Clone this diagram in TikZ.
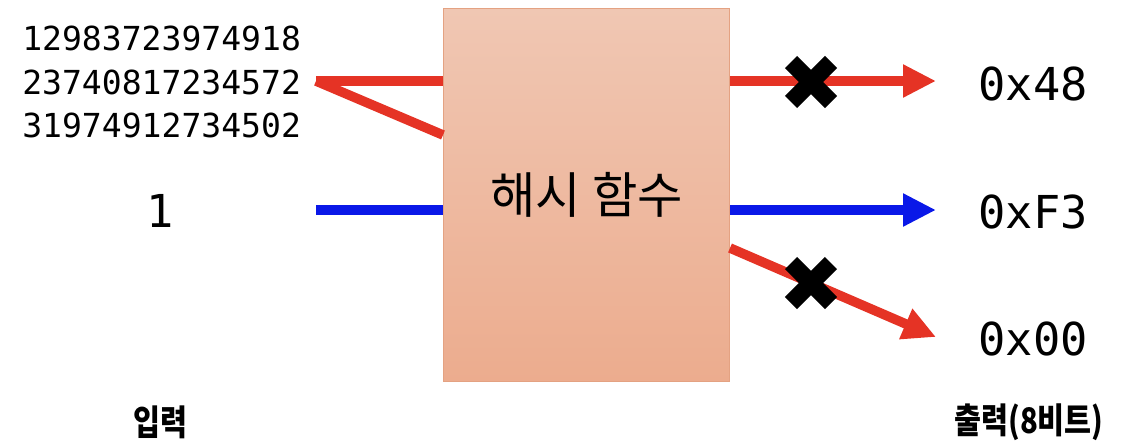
\documentclass[tikz,border=0pt]{standalone}
\usepackage{fontspec}
\setmonofont{DejaVu Sans Mono}
\newfontfamily\kr{Noto Sans CJK KR}
\usetikzlibrary{arrows.meta,positioning}
\definecolor{hashtop}{RGB}{240,199,179}
\definecolor{hashbot}{RGB}{236,172,142}
\definecolor{hashedge}{RGB}{228,162,130}
\definecolor{colred}{RGB}{229,51,37}
\definecolor{colblue}{RGB}{10,24,232}

\begin{document}
\begin{tikzpicture}[x=0.75pt, y=-0.75pt, >={Triangle[length=24.75pt,width=23.25pt]}]
\tikzstyle{every node}=[inner sep=0pt]
\tikzstyle{num}=[anchor=west, font=\ttfamily\fontsize{24.8}{24.8}\selectfont]
\tikzstyle{big}=[font=\ttfamily\fontsize{34}{34}\selectfont]
\tikzstyle{hashbox}=[draw=hashedge, line width=0.75pt, top color=hashtop, bottom color=hashbot,
  minimum width=214.5pt, minimum height=280pt, font=\kr\fontsize{37}{37}\selectfont]
\tikzstyle{caption}=[font=\kr\bfseries\fontsize{22}{22}\selectfont]
\tikzstyle{redln}=[colred, line width=7.2pt]
\tikzstyle{blueln}=[colblue, line width=7.2pt]
\tikzstyle{xmk}=[black, line width=12.75pt]
\useasboundingbox (0,0) rectangle (1122,444);

% inputs
\node[num] (n1) at (22,38)  {12983723974918};
\node[num] (n2) at (22,82)  {23740817234572};
\node[num] (n3) at (22,125) {31974912734502};
\node[big] (one) at (160,211) {1};

% hash function
\node[hashbox] (hash) at (586.5,195) {해시 함수};

% outputs
\node[big] (h1) at (1033,84)  {0x48};
\node[big] (h2) at (1033,212) {0xF3};
\node[big] (h3) at (1033,339) {0x00};

\node[caption] (inlbl)  at (160,422)  {\scalebox{1}[1.2]{입력}};
\node[caption] (outlbl) at (1029,422) {\scalebox{1}[1.2]{출력(8비트)}};

\coordinate (src)  at (316,81);
\coordinate (bsrc) at (316,210);
\coordinate (t1) at (936,81);
\coordinate (t2) at (936,210);
\coordinate (t3) at (936,337);

\draw[redln]  (src) -- (src -| hash.west);
\draw[redln]  (src) -- (hash.west |- 0,135);
\draw[blueln] (bsrc) -- (bsrc -| hash.west);

\draw[redln,->]  (hash.east |- t1) -- (t1);
\draw[blueln,->] (hash.east |- t2) -- (t2);
\draw[redln,->]  (hash.east |- 0,248) -- (t3);

% crossed out
\foreach \y in {82,283}
  \draw[xmk] (791,\y-20) -- (831,\y+20) (831,\y-20) -- (791,\y+20);

\end{tikzpicture}
\end{document}
